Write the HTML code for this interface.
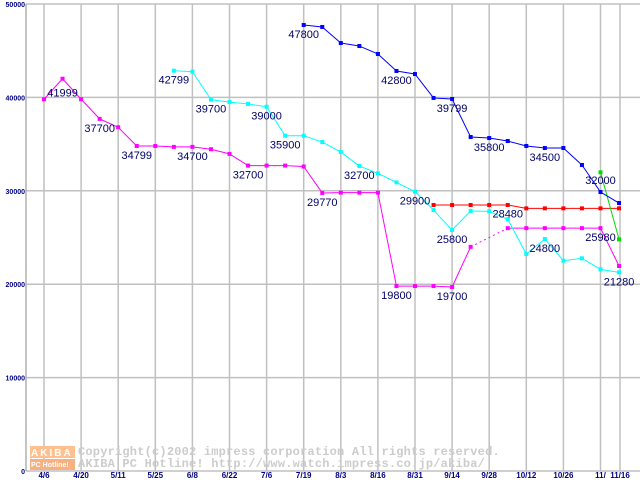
<!DOCTYPE html>
<html><head><meta charset="utf-8"><style>
body{margin:0;background:#fff;}
svg{display:block;}
</style></head><body>
<svg id="chart" width="640" height="480" xmlns="http://www.w3.org/2000/svg" font-family="Liberation Sans, sans-serif"></svg>
<script>
const dates=["4/6","4/20","5/11","5/25","6/8","6/22","7/6","7/19","8/3","8/16","8/31","9/14","9/28","10/12","10/26","11/","11/16"];
const yTicks=[0,10000,20000,30000,40000,50000];
const magenta=[39800,41999,39800,37700,36800,34799,34799,34700,34700,34450,33950,32700,32700,32700,32600,29770,29800,29800,29800,19800,19800,19800,19700,24000,null,26000,26000,26000,26000,26000,26000,21950];
const cyan=[null,null,null,null,null,null,null,42860,42750,39760,39500,39300,39000,35900,35900,35220,34150,32650,31870,30900,29910,27940,25800,27840,27800,26950,23230,24840,22520,22770,21590,21270];
const blue=[null,null,null,null,null,null,null,null,null,null,null,null,null,null,47750,47540,45820,45500,44650,42830,42500,39940,39830,35760,35650,35330,34800,34580,34580,32760,29870,28690];
const red=[null,null,null,null,null,null,null,null,null,null,null,null,null,null,null,null,null,null,null,null,null,28480,28480,28480,28480,28480,28120,28120,28120,28120,28120,28120];
const green=[null,null,null,null,null,null,null,null,null,null,null,null,null,null,null,null,null,null,null,null,null,null,null,null,null,null,null,null,null,null,31980,24800];
const labels=[["m",1,"41999"],["m",3,"37700"],["m",5,"34799"],["m",8,"34700"],["m",11,"32700"],["m",15,"29770"],["m",19,"19800"],["m",22,"19700"],["m",30,"25980"],
["c",7,"42799"],["c",9,"39700"],["c",12,"39000"],["c",13,"35900"],["c",17,"32700"],["c",20,"29900"],["c",22,"25800"],["c",25,"28480"],["c",27,"24800"],["c",31,"21280"],
["b",14,"47800"],["b",19,"42800"],["b",22,"39799"],["b",24,"35800"],["b",27,"34500"],["b",30,"32000"]];
const NS="http://www.w3.org/2000/svg";
const svg=document.getElementById('chart');
function X(i){return 44+i*18.55;}
function Y(v){return 471-v*0.00934;}
function mk(t,a,p){const e=document.createElementNS(NS,t);for(const k in a)e.setAttribute(k,a[k]);(p||svg).appendChild(e);return e;}
const grid=mk('g',{});


yTicks.forEach(v=>{
  const l=mk('line',{x1:26,x2:640,y1:Y(v),y2:Y(v),stroke:'#c0c0c0','stroke-width':1.5},grid);
  
  
  const t=mk('text',{x:25,y:Y(v)+3,'text-anchor':'end','font-size':7,'font-weight':'bold',fill:'#000080'});
  t.textContent=v;
  
  
});
dates.forEach((d,k)=>{
  const x=k<16?X(k*2):620;
  const l=mk('line',{x1:x,x2:x,y1:4,y2:471,stroke:'#c0c0c0','stroke-width':1.5},grid);
  
  
  const t=mk('text',{x:x,y:478,'text-anchor':'middle','font-size':8,'font-weight':'bold',fill:'#000080'});
  t.textContent=d;
  
  
});
const ax=mk('line',{x1:26,x2:26,y1:4,y2:471,stroke:'#b0b0b0','stroke-width':1.5});


// watermark
const wm=mk('g',{});


mk('rect',{x:30,y:446,width:45,height:12,fill:'#ffc090'},wm);
mk('rect',{x:30,y:459,width:45,height:11,fill:'#f8b080'},wm);
const w1=mk('text',{x:31,y:456,'font-size':10,'font-weight':'bold',fill:'#fff','letter-spacing':2},wm);w1.textContent='AKIBA';
const w2=mk('text',{x:31,y:467,'font-size':7,'font-weight':'bold',fill:'#fff'},wm);w2.textContent='PC Hotline!';
const c1=mk('text',{x:78,y:455,'font-family':'Liberation Mono, monospace','font-size':12,'font-weight':'bold','letter-spacing':0.2,fill:'#cccccc'},wm);c1.textContent='Copyright(c)2002 impress corporation All rights reserved.';
const c2=mk('text',{x:78,y:467,'font-family':'Liberation Mono, monospace','font-size':12,'font-weight':'bold','letter-spacing':0.2,fill:'#cccccc','xml:space':'preserve'},wm);c2.textContent='AKIBA PC Hotline!  http://www.watch.impress.co.jp/akiba/';
function series(data,color,name){
  const g=mk('g',{});
  
  
  let prev=null,prevI=-1;
  data.forEach((v,i)=>{
    if(v==null)return;
    if(prev!=null){
      const a={x1:X(prevI),y1:Y(prev),x2:X(i),y2:Y(v),stroke:color,'stroke-width':1};
      if(i-prevI>1)a['stroke-dasharray']='2,3';
      const l=mk('line',a,g);
      
      
    }
    prev=v;prevI=i;
  });
  data.forEach((v,i)=>{
    if(v==null)return;
    const r=mk('rect',{x:X(i)-2,y:Y(v)-2,width:4,height:4,fill:color},g);
    
    
  });
}
series(magenta,'#ff00ff','series-magenta');
series(cyan,'#00ffff','series-cyan');
series(red,'#ff0000','series-red');
series(green,'#00dd00','series-green');
series(blue,'#0000ff','series-blue');
const sm={m:magenta,c:cyan,b:blue};
labels.forEach(([s,i,txt])=>{
  const v=sm[s][i];
  let dy=13;
  if(txt==="28480")dy=-2;
  if(txt==="32000")dy=-8;
  if(txt==="41999")dy=18;
  const t=mk('text',{x:X(i),y:Y(v)+dy,'text-anchor':'middle','font-size':11,fill:'#000066'});
  t.textContent=txt;
  
  
});
</script>
</body></html>
